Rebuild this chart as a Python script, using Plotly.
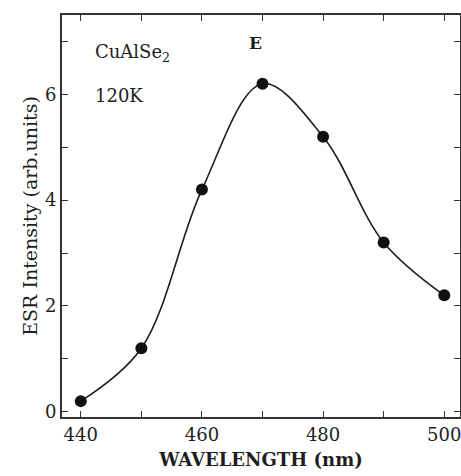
import plotly.graph_objects as go

wavelength = [440, 450, 460, 470, 480, 490, 500]
intensity = [0.2, 1.2, 4.2, 6.2, 5.2, 3.2, 2.2]

x_tickvals = [440, 450, 460, 470, 480, 490, 500]
x_ticktext = ["440", "", "460", "", "480", "", "500"]
y_tickvals = [0, 1, 2, 3, 4, 5, 6, 7]
y_ticktext = ["0", "", "2", "", "4", "", "6", ""]

font_family = "DejaVu Serif"
ink = "#1e1e1e"

fig = go.Figure()
fig.add_trace(go.Scatter(
    x=wavelength, y=intensity, mode="lines+markers",
    line=dict(color=ink, width=1.6, shape="spline", smoothing=1.0),
    marker=dict(color="#111111", size=12),
    showlegend=False,
))

axis_common = dict(
    showline=True, linecolor="#333333", linewidth=2, mirror="ticks",
    ticks="inside", ticklen=6, tickwidth=1.2, tickcolor="#333333",
    showgrid=False, zeroline=False, automargin=False,
    ticklabeloverflow="allow",
    tickfont=dict(family=font_family, size=18, color=ink),
)

fig.update_xaxes(
    range=[436.9, 502.6], tickvals=x_tickvals, ticktext=x_ticktext,
    title=dict(text="<b>WAVELENGTH (nm)</b>", font=dict(family=font_family, size=18, color=ink), standoff=10),
    **axis_common,
)
fig.update_yaxes(
    range=[-0.1, 7.5], tickvals=y_tickvals, ticktext=y_ticktext,
    title=dict(text="ESR Intensity (arb.units)", font=dict(family=font_family, size=19, color=ink), standoff=2),
    **axis_common,
)

fig.add_annotation(x=0.078, y=0.905, xref="paper", yref="paper", text="CuAlSe<sub>2</sub>",
                   showarrow=False, xanchor="left", yanchor="middle",
                   font=dict(family=font_family, size=18, color=ink))
fig.add_annotation(x=0.078, y=0.8, xref="paper", yref="paper", text="120K",
                   showarrow=False, xanchor="left", yanchor="middle",
                   font=dict(family=font_family, size=18, color=ink))
fig.add_annotation(x=0.485, y=0.93, xref="paper", yref="paper", text="<b>E</b>",
                   showarrow=False, xanchor="center", yanchor="middle",
                   font=dict(family=font_family, size=17, color=ink))

fig.update_layout(
    width=461, height=476,
    margin=dict(l=62, r=1, t=15, b=59),
    paper_bgcolor="white", plot_bgcolor="white",
)

fig.write_html("out.html")
